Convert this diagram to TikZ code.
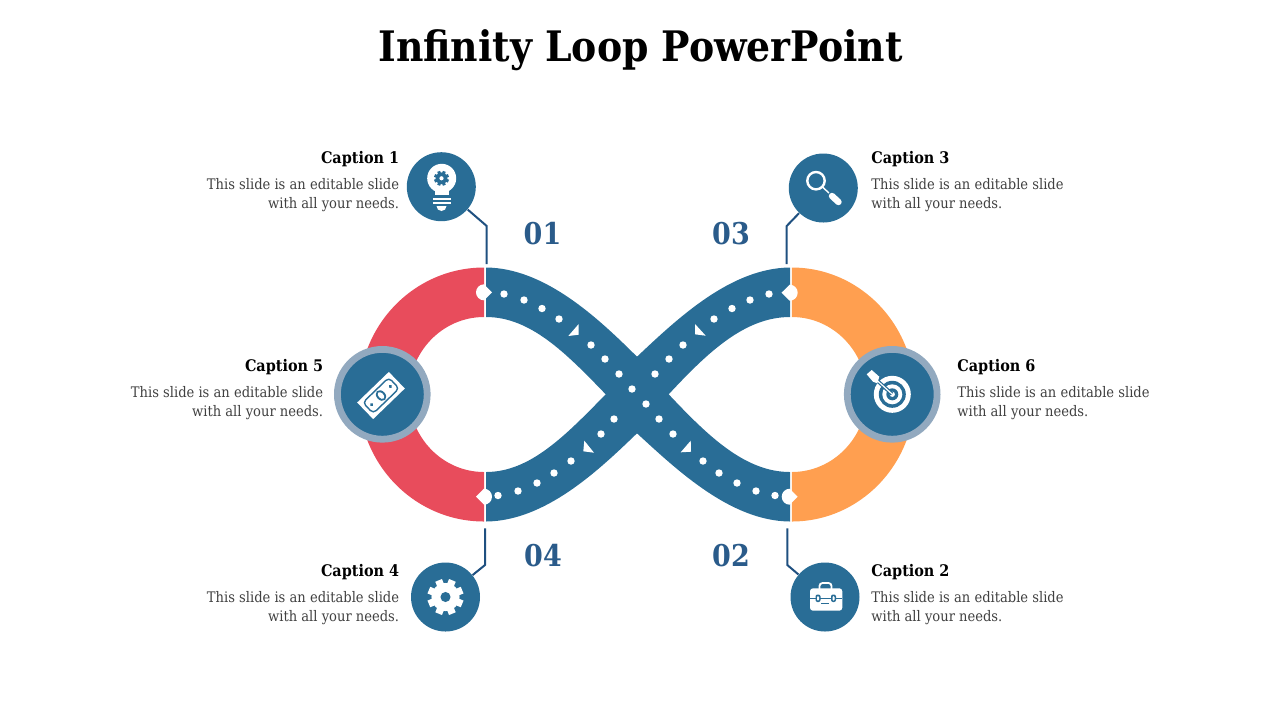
\documentclass[tikz,border=0pt]{standalone}
\usepackage{fontspec}
\setmainfont{DejaVu Serif Condensed}
\definecolor{loop_blue}{RGB}{41, 109, 150}
\definecolor{loop_red}{RGB}{232, 76, 92}
\definecolor{loop_orange}{RGB}{255, 159, 80}
\definecolor{loop_ring}{RGB}{146, 169, 191}
\definecolor{lead_blue}{RGB}{31, 80, 128}
\definecolor{num_blue}{RGB}{42, 91, 138}
\definecolor{body_grey}{RGB}{64, 64, 64}
\tikzset{
  iconn/.style={circle,fill=loop_blue,inner sep=0pt,minimum size=34.5pt},
  bigiconn/.style={circle,fill=loop_blue,draw=loop_ring,line width=3.4pt,inner sep=0pt,minimum size=44.9pt},
  leader/.style={draw=lead_blue,line width=1pt},
  dotn/.style={circle,fill=white,inner sep=0pt,minimum size=3.7pt},
  captn/.style={font=\fontsize{8}{10}\selectfont\bfseries,inner sep=0pt,text=black},
  bodyn/.style={font=\fontsize{7.28}{9.5}\selectfont,inner sep=0pt,text=body_grey},
  numn/.style={font=\fontsize{15}{18}\selectfont\bfseries,inner sep=0pt,text=num_blue},
}
\newcommand{\gearicon}[5]{% center x, y, radius, tooth colour, hole colour
  \foreach \a in {0,45,...,315}
    \fill[#4,shift={(#1,#2)},rotate=\a+22.5] (-0.2*#3,0) rectangle (0.2*#3,#3);
  \fill[#4] (#1,#2) circle[radius=0.78*#3];
  \fill[#5] (#1,#2) circle[radius=0.28*#3];
}
\begin{document}
\begin{tikzpicture}[x=0.5pt,y=-0.5pt]
  \useasboundingbox (0,0) rectangle (1280,720);
  \node[font=\fontsize{21}{24}\selectfont\bfseries,inner sep=0pt] (title) at (640.5,50) {Infinity Loop PowerPoint};
  % side arcs
  \fill[loop_red] (484,267.5) arc[start angle=270,end angle=90,x radius=125,y radius=127] -- (484,472) arc[start angle=90,end angle=270,x radius=75,y radius=77.5] -- cycle;
  \fill[loop_orange] (791.8,267.5) arc[start angle=-90,end angle=90,x radius=123,y radius=127] -- (791.8,472) arc[start angle=90,end angle=-90,x radius=75,y radius=77.5] -- cycle;
  % crossing bands
  \fill[loop_blue] (486,267.5) .. controls (545,268) and (598,318) .. (637,356.7) .. controls (648,368) and (658,383) .. (668.7,394.3)
    .. controls (708,436) and (745,472) .. (790,472) -- (790,521.5) .. controls (731,521) and (678,471) .. (637,433.3)
    .. controls (628,421) and (616,406) .. (605.7,394.3) .. controls (565,352) and (530,317) .. (486,317) -- cycle;
  \fill[loop_blue] (790,267.5) .. controls (731,268) and (678,318) .. (637,356.7) .. controls (628,368) and (616,383) .. (605.7,394.3)
    .. controls (565,436) and (530,472) .. (486,472) -- (486,521.5) .. controls (545,521) and (598,471) .. (637,433.3)
    .. controls (648,421) and (658,406) .. (668.7,394.3) .. controls (708,352) and (745,317) .. (790,317) -- cycle;
  % joints on the dividers
  \fill[white] (484,284.3) arc[start angle=270,end angle=90,radius=8] -- (492,292.3) -- cycle;
  \fill[white] (484,488.7) -- (476,496.7) -- (484,504.7) arc[start angle=90,end angle=-90,radius=8] -- cycle;
  \fill[white] (789.7,284.7) -- (781.5,292.7) -- (789.7,300.7) arc[start angle=90,end angle=-90,radius=8] -- cycle;
  \fill[white] (789.7,488.7) arc[start angle=270,end angle=90,radius=8] -- (797.7,496.7) -- cycle;
  % dots
  \foreach \x/\y in {504/294,524/300,542/308.5,559/319,591/345,605/359,619/374,632/389,
      498/495.5,518/491,537/483,554/473,571/461,601/434,614/419,
      769/294,750/300,732/308.5,714/319,683/345,669/359,655/374,
      646/404,659/419,673/434,703/461,719/473,737/483,756/491,775/495.5}
    \node[dotn] at (\x,\y) {};
  % arrow marks
  \fill[white] (578.7,324) -- (568.3,336) -- (578.7,334.7) -- cycle;
  \fill[white] (584.3,440.7) -- (583.3,451.3) -- (594,452.7) -- cycle;
  \fill[white] (695,324) -- (705.7,335.7) -- (695,334.3) -- cycle;
  \fill[white] (690.7,440.7) -- (680.7,452.3) -- (691,451.7) -- cycle;
  % side medallions
  \node[bigiconn] (icon5) at (382.3,394.3) {};
  \node[bigiconn] (icon6) at (892.2,394.3) {};
  % small medallions
  \node[iconn] (icon1) at (441.3,186.7) {};
  \node[iconn] (icon3) at (823.3,188) {};
  \node[iconn] (icon4) at (445.5,597) {};
  \node[iconn] (icon2) at (825,597) {};
  % leaders
  \coordinate (bend1) at (486.7,226);
  \coordinate (end1) at (486.7,264);
  \coordinate (bend3) at (786.7,226);
  \coordinate (end3) at (786.7,264);
  \coordinate (bend4) at (485,565);
  \coordinate (end4) at (485,528.3);
  \coordinate (bend2) at (787.3,565);
  \coordinate (end2) at (787.3,528.3);
  \draw[leader] (end1) -- (bend1) -- (icon1);
  \draw[leader] (end3) -- (bend3) -- (icon3);
  \draw[leader] (end4) -- (bend4) -- (icon4);
  \draw[leader] (end2) -- (bend2) -- (icon2);
  % bulb
  \fill[white] (441.7,178.3) circle[radius=14.5];
  \fill[white] (435,189) rectangle (448.5,195);
  \gearicon{441.5}{178.3}{7.5}{loop_blue}{white}
  \fill[white] (432.7,198) rectangle (450.7,199.8);
  \fill[white] (432.7,202) rectangle (450.7,203.8);
  \fill[white] (436.5,206) -- (446.5,206) arc[start angle=0,end angle=180,radius=5] -- cycle;
  % magnifier
  \draw[white,line width=1.2pt] (816,180.7) circle[radius=8.7];
  \draw[white,line width=0.7pt] (823,187.5) -- (829,193);
  \draw[white,line width=3.2pt,line cap=round] (832,196) -- (838.5,202);
  % gear
  \gearicon{445.5}{597}{18}{white}{loop_blue}
  % briefcase
  \draw[white,line width=0.9pt,rounded corners=1.5pt] (819.5,589) -- (819.5,583) -- (831.5,583) -- (831.5,589);
  \fill[white,rounded corners=1.5pt] (810,588.3) rectangle (842.3,610.7);
  \draw[loop_blue,line width=0.6pt] (810,598.3) -- (842.3,598.3);
  \fill[loop_blue,rounded corners=1pt] (815.5,594.5) rectangle (820.5,602);
  \fill[loop_blue,rounded corners=1pt] (831,594.5) rectangle (836,602);
  \fill[white,rounded corners=0.5pt] (817,596) rectangle (819,600.5);
  \fill[white,rounded corners=0.5pt] (832.5,596) rectangle (834.5,600.5);
  \draw[loop_blue,line width=0.6pt] (821,603.3) -- (829,603.3);
  % banknote
  \begin{scope}[shift={(381,395.5)},rotate=44]
    \fill[white] (-22,-11.5) rectangle (22,11.5);
    \draw[loop_blue,line width=0.7pt,rounded corners=2pt] (-18,-7.5) rectangle (18,7.5);
    \fill[loop_blue] (0,0) ellipse[x radius=4.5,y radius=6];
    \fill[white] (0,0) ellipse[x radius=2.5,y radius=4];
    \fill[loop_blue] (-13,0) circle[radius=1.8];
    \fill[loop_blue] (13,0) circle[radius=1.8];
  \end{scope}
  % target
  \fill[white] (892.3,394.3) circle[radius=18.5];
  \fill[loop_blue] (892.3,394.3) circle[radius=13.5];
  \fill[white] (892.3,394.3) circle[radius=10];
  \fill[loop_blue] (892.3,394.3) circle[radius=6];
  \fill[white] (892.3,394.3) circle[radius=2.6];
  \draw[loop_blue,line width=1.8pt] (876,379.5) -- (892,394);
  \draw[white,line width=0.6pt] (876,379.5) -- (892,394);
  \fill[white] (866.7,374.3) -- (871.7,370) -- (879.3,376.7) -- (877.3,383.3) -- (873,381.7) -- cycle;
  % numbers
  \node[numn] (num1) at (542.5,233.5) {01};
  \node[numn] (num3) at (731,233.5) {03};
  \node[numn] (num4) at (543,556) {04};
  \node[numn] (num2) at (731,556) {02};
  % captions
  \node[captn,anchor=east] (cap1) at (399.5,159) {Caption 1};
  \node[bodyn,anchor=north east,align=right] (text1) at (399.5,178) {This slide is an editable slide\\with all your needs.};
  \node[captn,anchor=west] (cap3) at (871,159) {Caption 3};
  \node[bodyn,anchor=north west,align=left] (text3) at (871,178) {This slide is an editable slide\\with all your needs.};
  \node[captn,anchor=east] (cap5) at (323.5,367) {Caption 5};
  \node[bodyn,anchor=north east,align=right] (text5) at (323.5,386) {This slide is an editable slide\\with all your needs.};
  \node[captn,anchor=west] (cap6) at (957,367) {Caption 6};
  \node[bodyn,anchor=north west,align=left] (text6) at (957,386) {This slide is an editable slide\\with all your needs.};
  \node[captn,anchor=east] (cap4) at (399.5,572) {Caption 4};
  \node[bodyn,anchor=north east,align=right] (text4) at (399.5,591) {This slide is an editable slide\\with all your needs.};
  \node[captn,anchor=west] (cap2) at (871,572) {Caption 2};
  \node[bodyn,anchor=north west,align=left] (text2) at (871,591) {This slide is an editable slide\\with all your needs.};
\end{tikzpicture}
\end{document}
